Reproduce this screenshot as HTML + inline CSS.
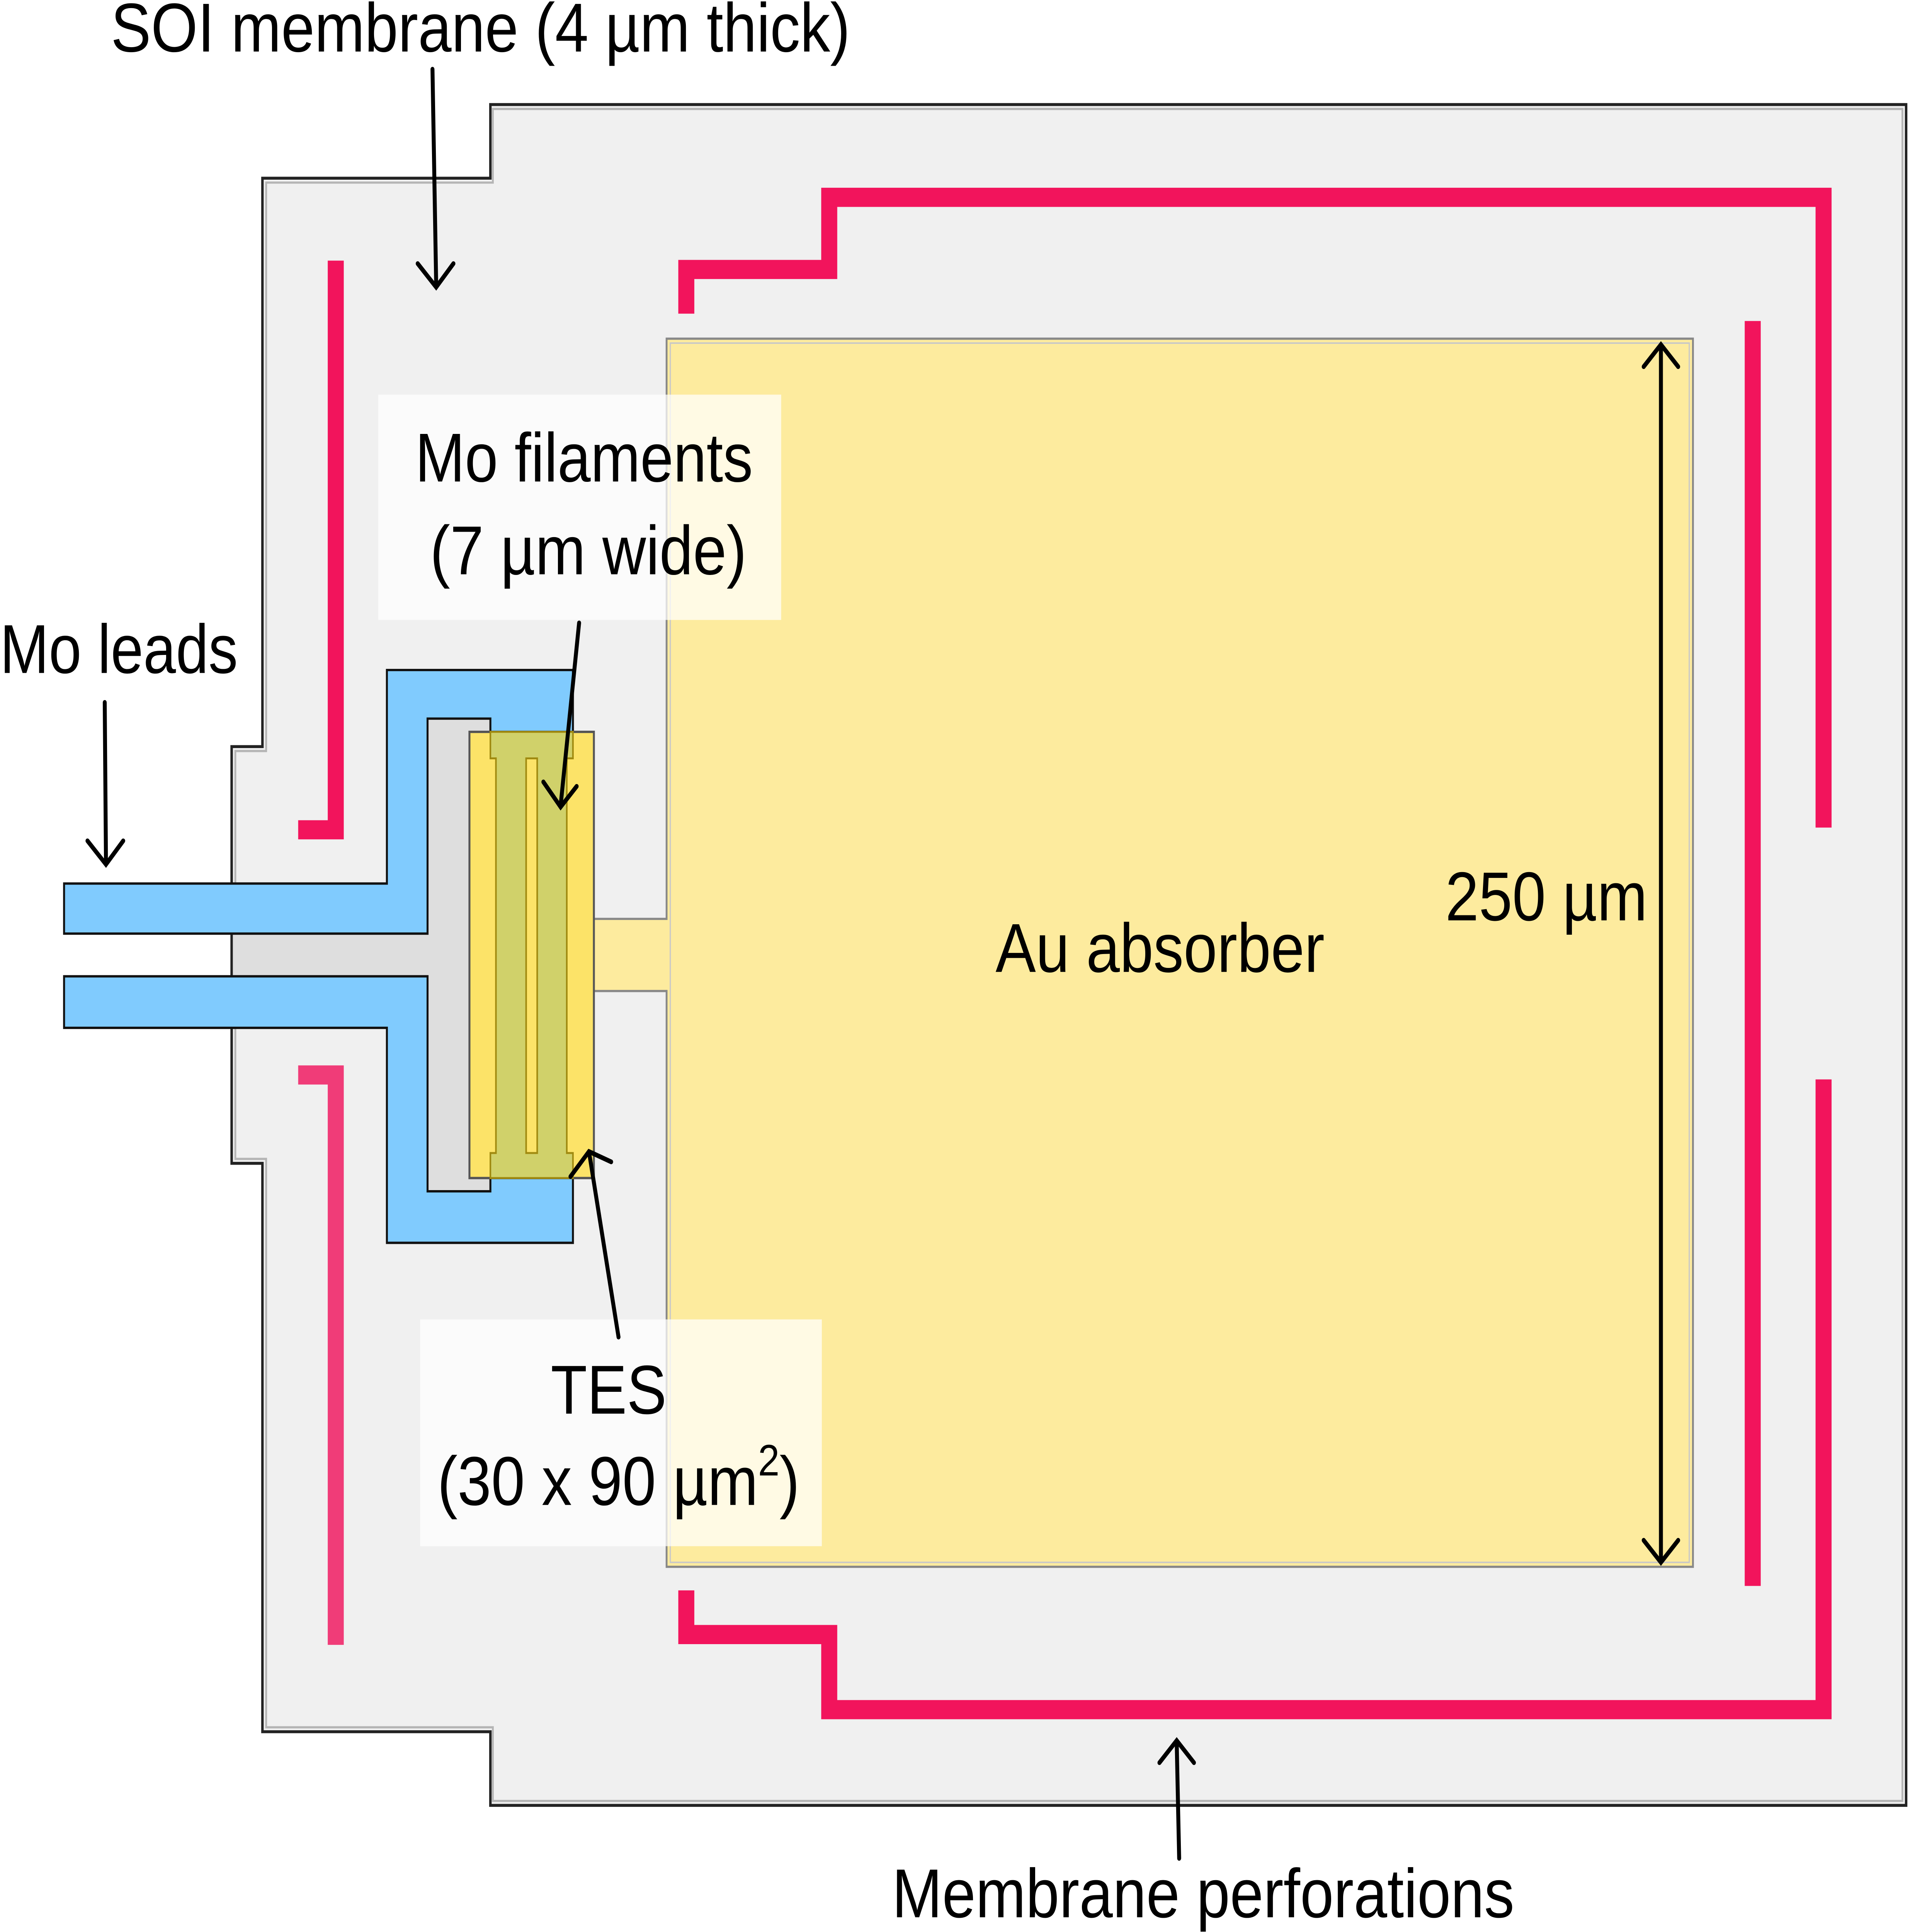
<!DOCTYPE html>
<html><head><meta charset="utf-8"><style>
html,body{margin:0;padding:0;background:#fff;width:100%;height:100%;overflow:hidden;}
svg{display:block;position:fixed;left:0;top:0;width:100vw;height:100vh;}
text{font-family:"Liberation Sans",Arial,sans-serif;fill:#000;}
</style></head><body>
<svg xmlns="http://www.w3.org/2000/svg" viewBox="0 0 1568 1312" preserveAspectRatio="none">
<rect width="1568" height="1312" fill="#fff"/>
<polygon points="398,71 1547,71 1547,1226 398,1226 398,1176 213,1176 213,790 188,790 188,507 213,507 213,121 398,121" fill="#f0f0f0" stroke="#222" stroke-width="2"/>
<polygon points="400,74 1544,74 1544,1223 400,1223 400,1173 216,1173 216,787 191,787 191,510 216,510 216,124 400,124" fill="none" stroke="#b5b5b5" stroke-width="1.5"/>
<g fill="none" stroke="#f2145c" stroke-width="13" stroke-linecap="butt" stroke-linejoin="miter">
<polyline points="272.5,177 272.5,563.5 242,563.5"/>
<polyline points="557,213 557,183 673,183 673,134 1480,134 1480,562"/>
<line x1="1422.5" y1="218" x2="1422.5" y2="1077"/>
<polyline points="557,1080 557,1110 673,1110 673,1161 1480,1161 1480,733"/>
</g>
<polyline points="242,730 272.5,730 272.5,1117" fill="none" stroke="#f03c78" stroke-width="13"/>
<polygon points="541,230 1374,230 1374,1064 541,1064 541,673 482,673 482,624 541,624" fill="#fdeb9e" stroke="#888" stroke-width="1.5"/>
<polygon points="544,233 1371,233 1371,1061 544,1061" fill="none" stroke="#c8c8c8" stroke-width="1"/>
<rect x="189" y="634" width="158" height="29" fill="#dedede"/>
<rect x="347" y="488" width="51" height="321" fill="#dedede"/>
<polygon points="52,600 314,600 314,455 465,455 465,844 314,844 314,698 52,698 52,663 347,663 347,809 398,809 398,488 347,488 347,634 52,634" fill="#80cbfe" stroke="#111" stroke-width="1.6" stroke-linejoin="miter"/>
<rect x="381" y="497" width="101" height="303" fill="#fce368" stroke="#555" stroke-width="1.6"/>
<polygon points="398,497 465,497 465,515 460,515 460,783 465,783 465,800 398,800 398,783 402.5,783 402.5,515 398,515" fill="#d0d16a" stroke="#a08a10" stroke-width="1.3"/>
<rect x="427" y="515" width="9" height="268" fill="#fce368" stroke="#a08a10" stroke-width="1.3"/>
<rect x="307" y="268" width="327" height="153" fill="#ffffff" fill-opacity="0.72"/>
<rect x="341" y="896" width="326" height="154" fill="#ffffff" fill-opacity="0.72"/>
<g fill="none" stroke="#000" stroke-width="3.2" stroke-linecap="round" stroke-linejoin="miter">
<line x1="351" y1="47" x2="354" y2="193"/><polyline points="339,179 354,195 368,179"/>
<line x1="85" y1="477" x2="86" y2="585"/><polyline points="71,571 86,587 100,571"/>
<line x1="470" y1="423" x2="455" y2="547"/><polyline points="441,531 455,548 468,534"/>
<line x1="502" y1="908" x2="478" y2="782"/><polyline points="463,799 478,782 496,789"/>
<line x1="957" y1="1262" x2="955" y2="1183"/><polyline points="941,1197 955,1182 969,1197"/>
<line x1="1348" y1="235" x2="1348" y2="1060"/><polyline points="1334,249 1348,234 1362,249"/><polyline points="1334,1046 1348,1061 1362,1046"/>
</g>
<g font-size="47">
<text x="90" y="35" textLength="600" lengthAdjust="spacingAndGlyphs">SOI membrane (4 µm thick)</text>
<text x="0" y="457" textLength="193" lengthAdjust="spacingAndGlyphs">Mo leads</text>
<text x="337" y="327" textLength="274" lengthAdjust="spacingAndGlyphs">Mo filaments</text>
<text x="349" y="390" textLength="257" lengthAdjust="spacingAndGlyphs">(7 µm wide)</text>
<text x="447" y="960" textLength="94" lengthAdjust="spacingAndGlyphs">TES</text>
<text x="355" y="1022" textLength="294" lengthAdjust="spacingAndGlyphs">(30 x 90 µm<tspan font-size="30" dy="-20">2</tspan><tspan dy="20">)</tspan></text>
<text x="808" y="660" textLength="267" lengthAdjust="spacingAndGlyphs">Au absorber</text>
<text x="1173" y="625" textLength="164" lengthAdjust="spacingAndGlyphs">250 µm</text>
<text x="724" y="1302" textLength="505" lengthAdjust="spacingAndGlyphs">Membrane perforations</text>
</g>
</svg>
</body></html>
